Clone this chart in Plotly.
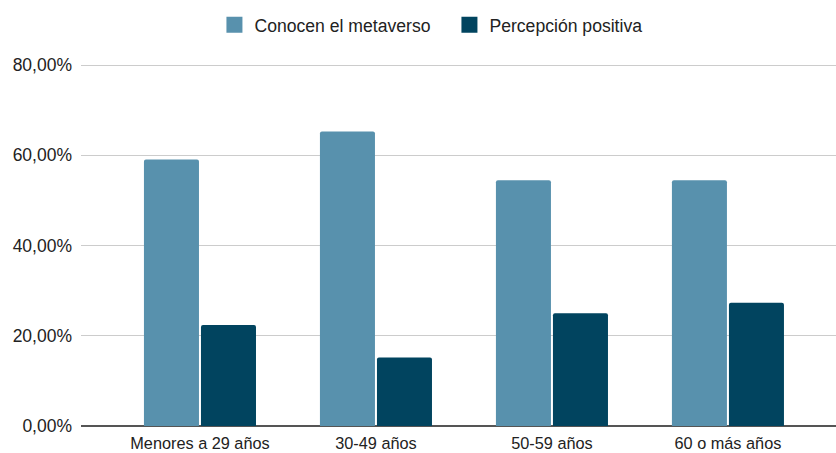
import plotly.graph_objects as go

categorias = ["Menores a 29 años", "30-49 años", "50-59 años", "60 o más años"]
conocen = [0.591, 0.653, 0.545, 0.545]
percepcion = [0.224, 0.152, 0.250, 0.273]
series = ["Conocen el metaverso", "Percepción positiva"]
colores = ["#5891ad", "#01445f"]

fig = go.Figure()
for nombre, valores, color in zip(series, [conocen, percepcion], colores):
    fig.add_trace(go.Bar(
        x=categorias, y=valores, name=nombre,
        marker=dict(color=color, line=dict(width=0)),
        showlegend=False,
    ))
    # legend entry with a larger square swatch
    fig.add_trace(go.Scatter(
        x=[None], y=[None], mode="markers", name=nombre,
        marker=dict(symbol="square", size=20, color=color),
    ))

font = "Liberation Sans, Arial, sans-serif"
fig.update_layout(
    width=836, height=453,
    margin=dict(l=81, r=0, t=64, b=27),
    paper_bgcolor="white", plot_bgcolor="white",
    separators=",.",
    barmode="group", bargap=0.352, bargroupgap=0.035,
    barcornerradius=2,
    font=dict(family=font, size=16, color="#222222"),
    legend=dict(orientation="h", x=0.488, xanchor="center", y=0.945, yanchor="middle",
                yref="container", font=dict(size=17.6, color="#222222"),
                itemsizing="trace", traceorder="normal", entrywidth=190),
    xaxis=dict(range=[-0.676, 3.614], showgrid=False, showline=False,
               ticks="", zeroline=False, ticklabelstandoff=6,
               tickfont=dict(size=16.3, color="#222222")),
    yaxis=dict(range=[0, 0.8025], tickvals=[0, 0.2, 0.4, 0.6, 0.8], tickformat=".2%",
               showgrid=True, gridcolor="#cccccc", gridwidth=1,
               zeroline=True, zerolinecolor="#555555", zerolinewidth=2,
               showline=False, ticks="", ticklabelstandoff=8,
               tickfont=dict(size=17.5, color="#222222")),
)
fig.write_html("out.html")
